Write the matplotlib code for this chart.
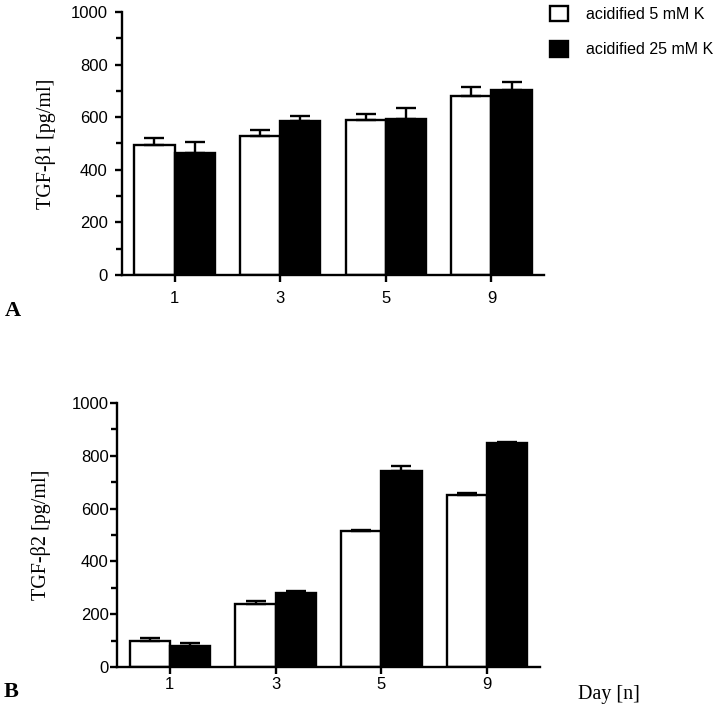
import numpy as np
import matplotlib
matplotlib.use('Agg')
import matplotlib.pyplot as plt
from matplotlib.ticker import MultipleLocator

days = ['1', '3', '5', '9']

# TGF-beta1 (panel A)
b1_5mM = [496, 528, 590, 680]
b1_5mM_err = [24, 23, 22, 35]
b1_25mM = [464, 587, 592, 703]
b1_25mM_err = [42, 18, 44, 31]

# TGF-beta2 (panel B)
b2_5mM = [100, 239, 514, 653]
b2_5mM_err = [11, 12, 6, 8]
b2_25mM = [81, 279, 744, 847]
b2_25mM_err = [11, 11, 18, 5]

labels = ['acidified 5 mM K', 'acidified 25 mM K']

plt.rcParams['font.family'] = ['Liberation Sans', 'DejaVu Sans']
serif = ['Liberation Serif', 'DejaVu Serif']

fig = plt.figure(figsize=(7.2, 7.12), dpi=100)
axA = fig.add_axes([0.169, 0.614, 0.587, 0.369])
axB = fig.add_axes([0.1625, 0.063, 0.5875, 0.371])


def draw_panel(ax, v1, e1, v2, e2, ylabel, tickpad, xpad):
    x = np.arange(len(days))
    w = 0.38
    h1 = ax.bar(x - w / 2, v1, w, color='white', edgecolor='black', lw=1.7, zorder=2)
    h2 = ax.bar(x + w / 2, v2, w, color='black', edgecolor='black', lw=1.7, zorder=2)
    for xx, v, e in ((x - w / 2, v1, e1), (x + w / 2, v2, e2)):
        ax.errorbar(xx, v, yerr=[np.zeros(len(v)), e], fmt='none', ecolor='black',
                    elinewidth=1.7, capsize=7.5, capthick=1.7, zorder=3)
    ax.set_xlim(-0.5, 3.5)
    ax.set_ylim(0, 1000)
    ax.set_xticks(x)
    ax.set_xticklabels(days)
    ax.yaxis.set_major_locator(MultipleLocator(200))
    ax.yaxis.set_minor_locator(MultipleLocator(100))
    for s in ('top', 'right'):
        ax.spines[s].set_visible(False)
    for s in ('left', 'bottom'):
        ax.spines[s].set_linewidth(1.7)
    ax.tick_params(axis='y', which='major', direction='out', length=5, width=1.7,
                   labelsize=12, pad=tickpad)
    ax.tick_params(axis='y', which='minor', direction='out', length=4, width=1.7)
    ax.tick_params(axis='x', direction='out', length=5, width=1.7, labelsize=12, pad=xpad)
    ax.set_ylabel(ylabel, family=serif, fontsize=14.5)
    return h1, h2


h1, h2 = draw_panel(axA, b1_5mM, b1_5mM_err, b1_25mM, b1_25mM_err,
                    'TGF-β1 [pg/ml]', 5, 7)
draw_panel(axB, b2_5mM, b2_5mM_err, b2_25mM, b2_25mM_err,
           'TGF-β2 [pg/ml]', 1, 2)

axA.yaxis.set_label_coords(-0.155, 0.5)
axB.yaxis.set_label_coords(-0.157, 0.5)

fig.legend([h1, h2], labels, loc='upper left', bbox_to_anchor=(0.744, 1.012),
           frameon=False, fontsize=11.5, handlelength=1.13, handleheight=1.13,
           labelspacing=1.2, handletextpad=1.1)

fig.text(0.007, 1 - 311 / 712, 'A', family=serif, fontsize=16, fontweight='bold',
         va='center', ha='left')
fig.text(0.005, 1 - 692 / 712, 'B', family=serif, fontsize=16, fontweight='bold',
         va='center', ha='left')
fig.text(578 / 720, 1 - 695 / 712, 'Day [n]', family=serif, fontsize=14.5,
         va='center', ha='left')

fig.savefig('out.png', dpi=100)
